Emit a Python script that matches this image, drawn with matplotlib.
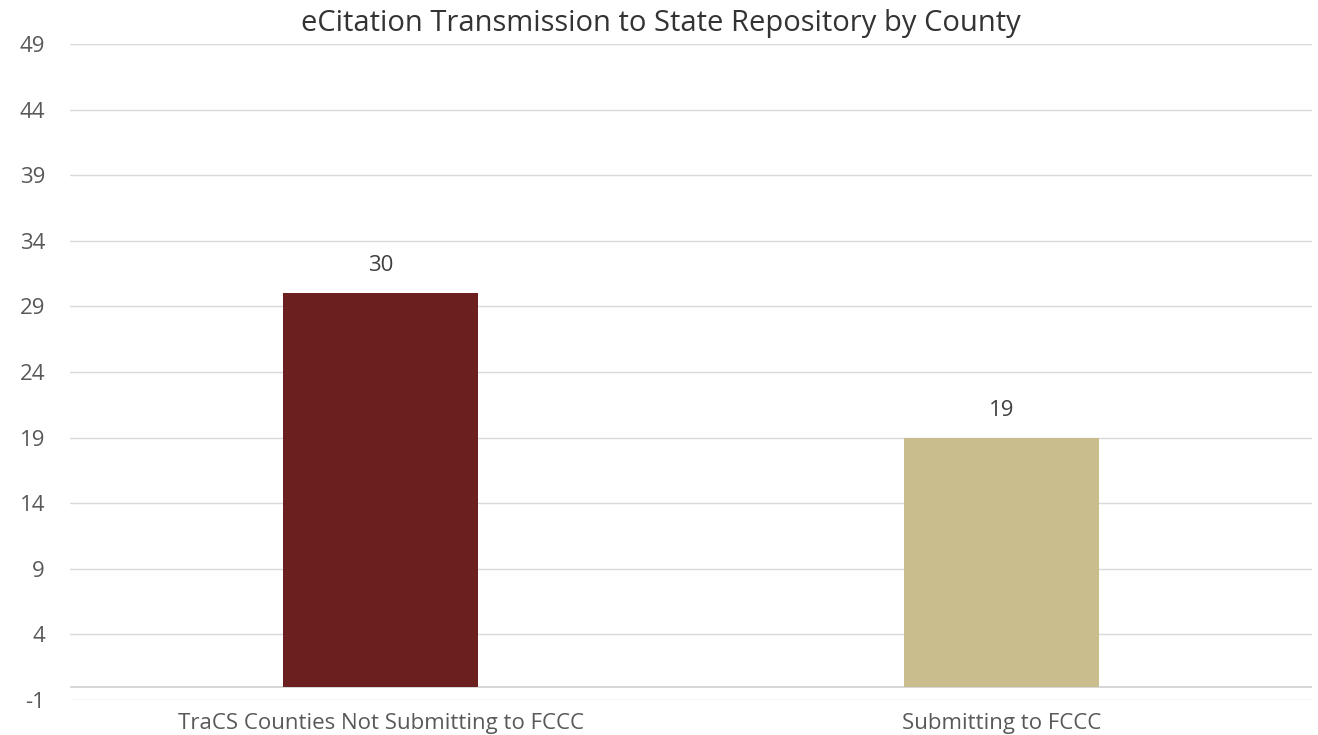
import numpy as np
import matplotlib.pyplot as plt

categories = ['TraCS Counties Not Submitting to FCCC', 'Submitting to FCCC']
counts = [30, 19]
bar_colors = ['#6B1F1F', '#C9BD8D']
yticks = [-1, 4, 9, 14, 19, 24, 29, 34, 39, 44, 49]

plt.rcParams['font.family'] = ['Open Sans', 'DejaVu Sans']
plt.rcParams['axes.unicode_minus'] = False

fig = plt.figure(figsize=(13.18, 7.35), dpi=100)
ax = fig.add_axes([70/1318, 35/735, 1242/1318, 656/735])

x = np.arange(len(categories))
ax.bar(x, counts, width=0.314, color=bar_colors, zorder=3)
for xi, v in zip(x, counts):
    ax.text(xi, v + 1.3, str(v), ha='center', va='bottom', fontsize=16, color='#404040')

ax.set_xlim(-0.5, len(categories) - 0.5)
ax.set_ylim(-1, 49)
ax.set_yticks(yticks)
ax.set_xticks(x)
ax.set_xticklabels(categories)
ax.axhline(0, color='#d0d0d0', lw=1.2, zorder=2)
ax.grid(axis='y', color='#d9d9d9', lw=1.0, zorder=0)
for s in ax.spines.values():
    s.set_visible(False)
ax.tick_params(axis='both', length=0, labelsize=16, labelcolor='#595959')
ax.tick_params(axis='y', pad=18)
ax.tick_params(axis='x', pad=9)

fig.text(661/1318, 1 - 24/735, 'eCitation Transmission to State Repository by County',
         ha='center', va='center', fontsize=21, color='#333333')

fig.savefig('out.png', dpi=100)
